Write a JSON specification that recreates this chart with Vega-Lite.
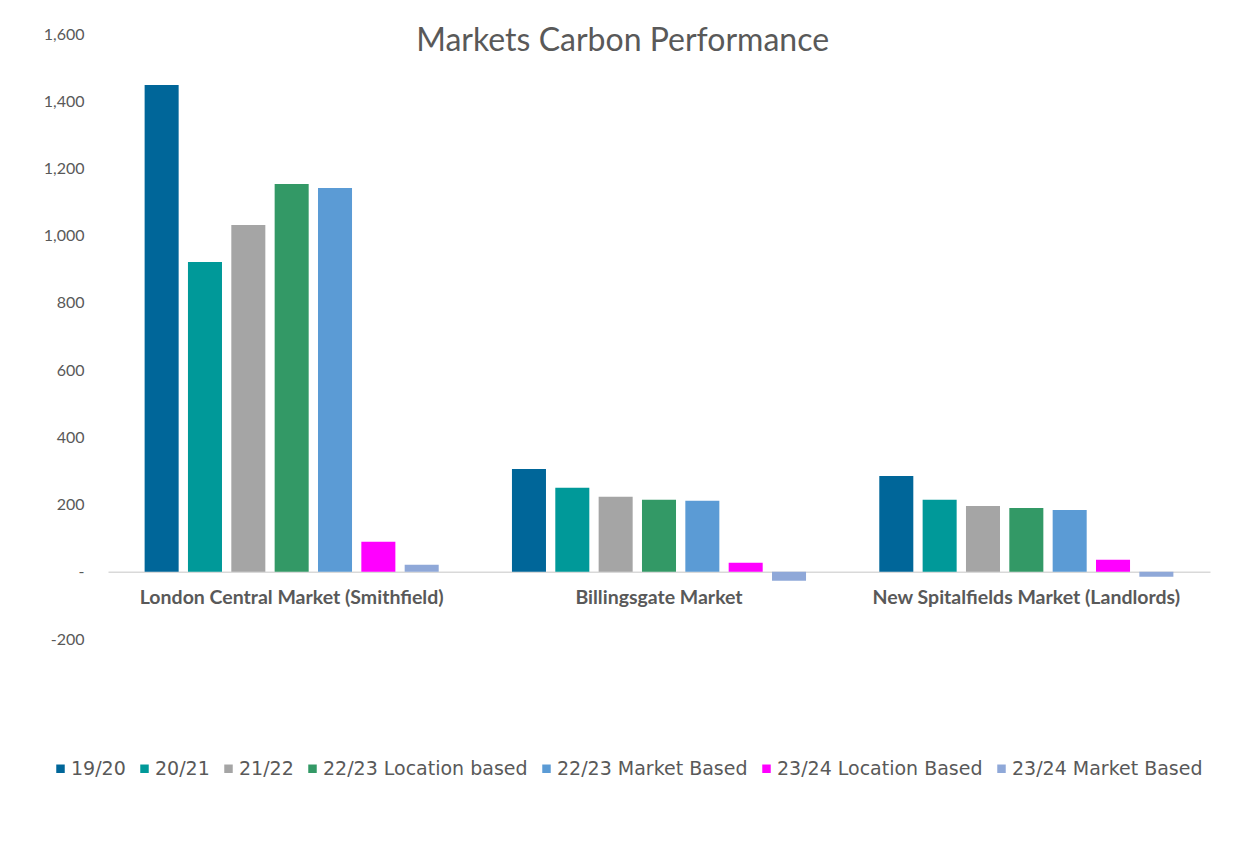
{
  "$schema": "https://vega.github.io/schema/vega-lite/v6.json",
  "autosize": {"type": "none"},
  "width": 1102,
  "height": 605,
  "padding": {"left": 108, "top": 34, "right": 26, "bottom": 209},
  "background": "white",
  "config": {"view": {"stroke": null}, "font": "Lato"},
  "title": {
    "text": "Markets Carbon Performance",
    "fontSize": 32,
    "fontWeight": "normal",
    "color": "#595959",
    "anchor": "middle",
    "frame": "bounds",
    "offset": -32,
    "dx": -4
  },
  "data": {
    "values": [
      {"market": "London Central Market (Smithfield)", "series": "19/20", "value": 1448},
      {"market": "London Central Market (Smithfield)", "series": "20/21", "value": 922},
      {"market": "London Central Market (Smithfield)", "series": "21/22", "value": 1032},
      {"market": "London Central Market (Smithfield)", "series": "22/23 Location based", "value": 1154},
      {"market": "London Central Market (Smithfield)", "series": "22/23 Market Based", "value": 1142},
      {"market": "London Central Market (Smithfield)", "series": "23/24 Location Based", "value": 89},
      {"market": "London Central Market (Smithfield)", "series": "23/24 Market Based", "value": 21},
      {"market": "Billingsgate Market", "series": "19/20", "value": 306},
      {"market": "Billingsgate Market", "series": "20/21", "value": 250},
      {"market": "Billingsgate Market", "series": "21/22", "value": 223},
      {"market": "Billingsgate Market", "series": "22/23 Location based", "value": 214},
      {"market": "Billingsgate Market", "series": "22/23 Market Based", "value": 211},
      {"market": "Billingsgate Market", "series": "23/24 Location Based", "value": 27},
      {"market": "Billingsgate Market", "series": "23/24 Market Based", "value": -27},
      {"market": "New Spitalfields Market (Landlords)", "series": "19/20", "value": 285},
      {"market": "New Spitalfields Market (Landlords)", "series": "20/21", "value": 214},
      {"market": "New Spitalfields Market (Landlords)", "series": "21/22", "value": 196},
      {"market": "New Spitalfields Market (Landlords)", "series": "22/23 Location based", "value": 190},
      {"market": "New Spitalfields Market (Landlords)", "series": "22/23 Market Based", "value": 184},
      {"market": "New Spitalfields Market (Landlords)", "series": "23/24 Location Based", "value": 36},
      {"market": "New Spitalfields Market (Landlords)", "series": "23/24 Market Based", "value": -15}
    ]
  },
  "mark": {"type": "bar"},
  "encoding": {
    "x": {
      "field": "market",
      "type": "nominal",
      "sort": null,
      "scale": {"paddingInner": 0, "paddingOuter": 0},
      "axis": {
        "title": null,
        "orient": "bottom",
        "offset": -67.2,
        "labelAngle": 0,
        "ticks": false,
        "domainColor": "#d9d9d9",
        "domainWidth": 1.5,
        "labelPadding": 17,
        "labelLimit": 0,
        "labelFontSize": 19.5,
        "labelFontWeight": "bold",
        "labelColor": "#595959"
      }
    },
    "xOffset": {
      "field": "series",
      "type": "nominal",
      "scale": {
        "domain": ["19/20", "20/21", "21/22", "22/23 Location based", "22/23 Market Based", "23/24 Location Based", "23/24 Market Based"],
        "paddingInner": 0.215,
        "paddingOuter": 0.845
      }
    },
    "y": {
      "field": "value",
      "type": "quantitative",
      "scale": {"domain": [-200, 1600], "nice": false},
      "axis": {
        "title": null,
        "values": [-200, 0, 200, 400, 600, 800, 1000, 1200, 1400, 1600],
        "labelExpr": "datum.value == 0 ? '-\u00a0\u00a0\u00a0\u00a0\u00a0\u00a0' : replace(format(datum.value, ','), '\u2212', '-')",
        "grid": false,
        "domain": false,
        "ticks": false,
        "labelPadding": 24,
        "labelFontSize": 16,
        "labelColor": "#595959"
      }
    },
    "color": {
      "field": "series",
      "type": "nominal",
      "scale": {
        "domain": ["19/20", "20/21", "21/22", "22/23 Location based", "22/23 Market Based", "23/24 Location Based", "23/24 Market Based"],
        "range": ["#006699", "#009999", "#a5a5a5", "#339966", "#5b9bd5", "#ff00ff", "#8fa8d8"]
      },
      "legend": {
        "title": null,
        "orient": "none",
        "direction": "horizontal",
        "columns": 7,
        "legendX": -57,
        "legendY": 725,
        "padding": 0,
        "symbolType": "square",
        "symbolSize": 72,
        "symbolStrokeWidth": 0,
        "labelFont": "DejaVu Sans",
        "labelFontSize": 19,
        "labelLimit": 0,
        "labelColor": "#595959",
        "labelOffset": 1,
        "columnPadding": 9
      }
    }
  }
}
